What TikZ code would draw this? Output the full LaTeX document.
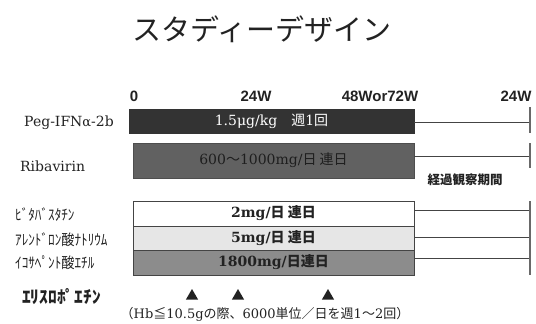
\documentclass[tikz,border=0pt]{standalone}
\usepackage{fontspec}
\usetikzlibrary{shapes.geometric}
\newfontfamily\jp{Noto Sans CJK JP}
\newfontfamily\sr{DejaVu Serif}
\newfontfamily\sa{Liberation Sans}
\definecolor{inkc}{HTML}{222222}
\definecolor{pegc}{HTML}{333333}
\definecolor{ribc}{HTML}{616161}
\definecolor{ribtxt}{HTML}{1E1E1E}
\definecolor{lightc}{HTML}{E6E6E6}
\definecolor{darkc}{HTML}{8C8C8C}
\definecolor{linec}{HTML}{444444}
\tikzset{
  bar/.style={rectangle, inner sep=0pt, draw=linec, line width=0.8pt, text=inkc,
    font=\sr\fontsize{14}{14}\selectfont},
  axislab/.style={font=\sa\bfseries\fontsize{15}{15}\selectfont, text=inkc, inner sep=0pt},
  lab/.style={font=\sr\fontsize{14}{14}\selectfont, text=inkc, inner sep=0pt, anchor=west},
  hwlab/.style={font=\jp\fontsize{15}{15}\selectfont, text=inkc, inner sep=0pt, anchor=west},
  conn/.style={draw=linec, line width=0.8pt},
  endbar/.style={draw=linec!80, line width=1.2pt},
  tri/.style={regular polygon, regular polygon sides=3, fill=inkc, inner sep=0pt, minimum size=14pt}
}
\begin{document}
\begin{tikzpicture}[x=1pt,y=-1pt]
\useasboundingbox (0,0) rectangle (536,324);
% title
\node[text=inkc, inner sep=0pt] (title) at (262,29) {\jp\fontsize{29}{29}\selectfont スタディーデザイン};
% axis labels
\node[axislab] (t0) at (134,96) {0};
\node[axislab] (t24) at (256,96) {24W};
\node[axislab] (t48) at (380,96) {48Wor72W};
\node[axislab] (t24b) at (516,96) {24W};
% row labels
\node[lab] (lpeg) at (24,123) {Peg-IFN{\fontsize{13}{13}\selectfont α}-2b};
\node[lab] (lrib) at (20,166) {Ribavirin};
\node[hwlab] (lpit) at (15,215) {\scalebox{0.88}[1]{ﾋﾞﾀﾊﾞｽﾀﾁﾝ}};
\node[hwlab] (lale) at (15,240) {\scalebox{0.88}[1]{ｱﾚﾝﾄﾞﾛﾝ酸ﾅﾄﾘｳﾑ}};
\node[hwlab] (lico) at (15,263) {\scalebox{0.88}[1]{ｲｺｻﾍﾟﾝﾄ酸ｴﾁﾙ}};
\node[hwlab, font=\jp\bfseries\fontsize{17.5}{17.5}\selectfont] (lepo) at (22,297) {ｴﾘｽﾛﾎﾟｴﾁﾝ};
% bars
\node[bar, fill=pegc, draw=pegc, text=white, minimum width=285pt, minimum height=24pt] (peg) at (271.5,121)
  {1.5μg/kg\hspace{14pt}{\jp 週}1{\jp 回}};
\node[bar, fill=ribc, draw=ribc!80!black, text=ribtxt, minimum width=281pt, minimum height=35pt] (rib) at (273.5,160.5)
  {600{\jp 〜}1000mg/{\jp 日 連日}};
\node[bar, fill=white, minimum width=281pt, minimum height=25pt] (pit) at (273.5,213.5)
  {\bfseries 2mg/{\jp\bfseries 日 連日}};
\node[bar, fill=lightc, minimum width=281pt, minimum height=24pt] (ale) at (273.5,238)
  {\bfseries 5mg/{\jp\bfseries 日 連日}};
\node[bar, fill=darkc, minimum width=281pt, minimum height=25pt] (ico) at (273.5,262.5)
  {\bfseries 1800mg/{\jp\bfseries 日連日}};
% follow-up end coordinates
\coordinate (e1) at (530,122);
\coordinate (e2) at (530,156);
\coordinate (e3) at (530,210);
\coordinate (e4) at (530,237);
\coordinate (e5) at (530,258);
\draw[conn] (peg.east |- e1) -- (e1);
\draw[conn] (rib.east |- e2) -- (e2);
\draw[conn] (pit.east |- e3) -- (e3);
\draw[conn] (ale.east |- e4) -- (e4);
\draw[conn] (ico.east |- e5) -- (e5);
\coordinate (v1a) at (530,107); \coordinate (v1b) at (530,133);
\coordinate (v2a) at (530,143); \coordinate (v2b) at (530,168);
\coordinate (v3a) at (530,201); \coordinate (v3b) at (530,275);
\draw[endbar] (v1a) -- (v1b);
\draw[endbar] (v2a) -- (v2b);
\draw[endbar] (v3a) -- (v3b);
\node[text=inkc, inner sep=0pt] (obs) at (465,180) {\jp\bfseries\fontsize{12.5}{12.5}\selectfont 経過観察期間};
% EPO triangles
\node[tri] (a1) at (192,296) {};
\node[tri] (a2) at (238,296) {};
\node[tri] (a3) at (328,296) {};
\node[text=inkc, inner sep=0pt] (note) at (265,314)
  {\fontsize{13}{13}\selectfont {\jp （}{\sr Hb}{\jp ≦}{\sr 10.5g}{\jp の際、}{\sr 6000}{\jp 単位／日を週}{\sr 1}{\jp 〜}{\sr 2}{\jp 回）}};
\end{tikzpicture}
\end{document}
